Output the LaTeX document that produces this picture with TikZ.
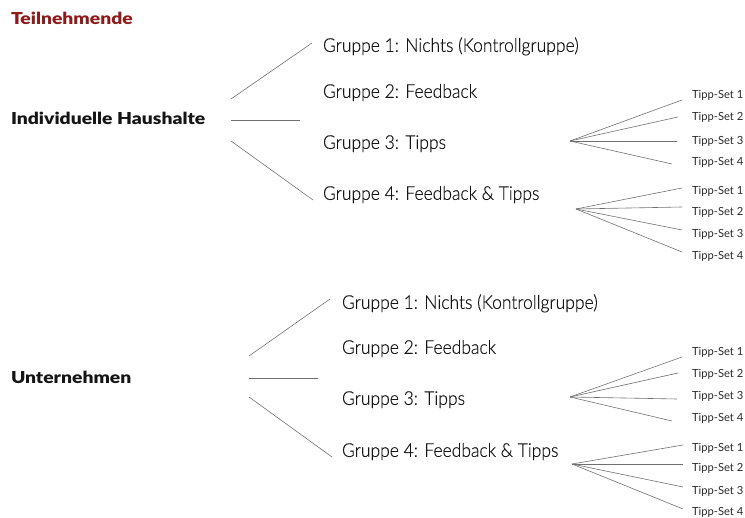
\documentclass[tikz,border=0pt]{standalone}
\usepackage{fontspec}
\setmainfont{Lato}
\newfontfamily\lightfont{Lato}[UprightFont=* Light, FakeStretch=0.92, FakeBold=0.25]
\newfontfamily\tippfont{Lato}
\newfontfamily\heavyfont{Lato}[UprightFont=* Black, FakeStretch=1.17]
\definecolor{titlered}{HTML}{8E1B1B}
\definecolor{branch}{HTML}{707070}
\definecolor{ink}{HTML}{151515}
\definecolor{tippink}{HTML}{2A2A2A}
\begin{document}
\begin{tikzpicture}[x=1pt,y=-1pt,
  every node/.style={inner sep=0pt,outer sep=0pt,anchor=west},
  heading/.style={font=\heavyfont\fontsize{16.5}{19}\selectfont,text=ink,text height=11.9pt,text depth=0pt},
  titletext/.style={heading,text=titlered},
  grouptext/.style={font=\lightfont\fontsize{19}{22}\selectfont,text=ink,text height=13.7pt,text depth=0pt},
  tipptext/.style={font=\tippfont\fontsize{11.2}{14}\selectfont,text=tippink,text height=8.1pt,text depth=0pt},
  link/.style={draw=branch,line width=0.6pt}]
\useasboundingbox (0,0) rectangle (745,518);

\node[titletext] (title) at (11,19) {Teilnehmende};

% ---------- Individuelle Haushalte ----------
\node[heading] (hh) at (11,119) {Individuelle Haushalte};
\coordinate (hhA0) at (231,99);  \coordinate (hhA1) at (312,43);
\coordinate (hhB0) at (231,120); \coordinate (hhB1) at (300,120);
\coordinate (hhC0) at (231,141); \coordinate (hhC1) at (313,200);
\draw[link] (hhA0) -- (hhA1);
\draw[link] (hhB0) -- (hhB1);
\draw[link] (hhC0) -- (hhC1);
\node[grouptext] (hg1) at (323,45) {Gruppe 1: Nichts (Kontrollgruppe)};
\node[grouptext] (hg2) at (323,91) {Gruppe 2: Feedback};
\node[grouptext] (hg3) at (323,142) {Gruppe 3: Tipps};
\node[grouptext] (hg4) at (323,193) {Gruppe 4: Feedback \& Tipps};

% tip sets for group 3
\coordinate (hf3) at (570,141);
\foreach \i/\y/\ex/\ey in {1/94/682/100, 2/116/678/117, 3/140/677/141, 4/161/672/164}{
  \node[tipptext] (h3t\i) at (692,\y) {Tipp-Set \i};
  \coordinate (h3e\i) at (\ex,\ey);
  \draw[link] (hf3) -- (h3e\i);
}
% tip sets for group 4
\coordinate (hf4) at (576,209);
\foreach \i/\y/\ey in {1/190/188, 2/211/207, 3/233/230, 4/255/252}{
  \node[tipptext] (h4t\i) at (692,\y) {Tipp-Set \i};
  \coordinate (h4e\i) at (682,\ey);
  \draw[link] (hf4) -- (h4e\i);
}

% ---------- Unternehmen ----------
\node[heading] (ut) at (11,378) {Unternehmen};
\coordinate (utA0) at (249,356); \coordinate (utA1) at (330,299);
\coordinate (utB0) at (249,378); \coordinate (utB1) at (318,378);
\coordinate (utC0) at (249,397); \coordinate (utC1) at (332,457);
\draw[link] (utA0) -- (utA1);
\draw[link] (utB0) -- (utB1);
\draw[link] (utC0) -- (utC1);
\node[grouptext] (ug1) at (342,302) {Gruppe 1: Nichts (Kontrollgruppe)};
\node[grouptext] (ug2) at (342,347) {Gruppe 2: Feedback};
\node[grouptext] (ug3) at (342,398) {Gruppe 3: Tipps};
\node[grouptext] (ug4) at (342,450) {Gruppe 4: Feedback \& Tipps};

% tip sets for group 3
\coordinate (uf3) at (570,397);
\foreach \i/\y/\ex/\ey in {1/351/682/357, 2/373/678/373, 3/395/677/399, 4/417/672/421}{
  \node[tipptext] (u3t\i) at (692,\y) {Tipp-Set \i};
  \coordinate (u3e\i) at (\ex,\ey);
  \draw[link] (uf3) -- (u3e\i);
}
% tip sets for group 4
\coordinate (uf4) at (572,464);
\foreach \i/\y/\ey in {1/447/445, 2/467/464, 3/490/487, 4/511/509}{
  \node[tipptext] (u4t\i) at (692,\y) {Tipp-Set \i};
  \coordinate (u4e\i) at (683,\ey);
  \draw[link] (uf4) -- (u4e\i);
}
\end{tikzpicture}
\end{document}
